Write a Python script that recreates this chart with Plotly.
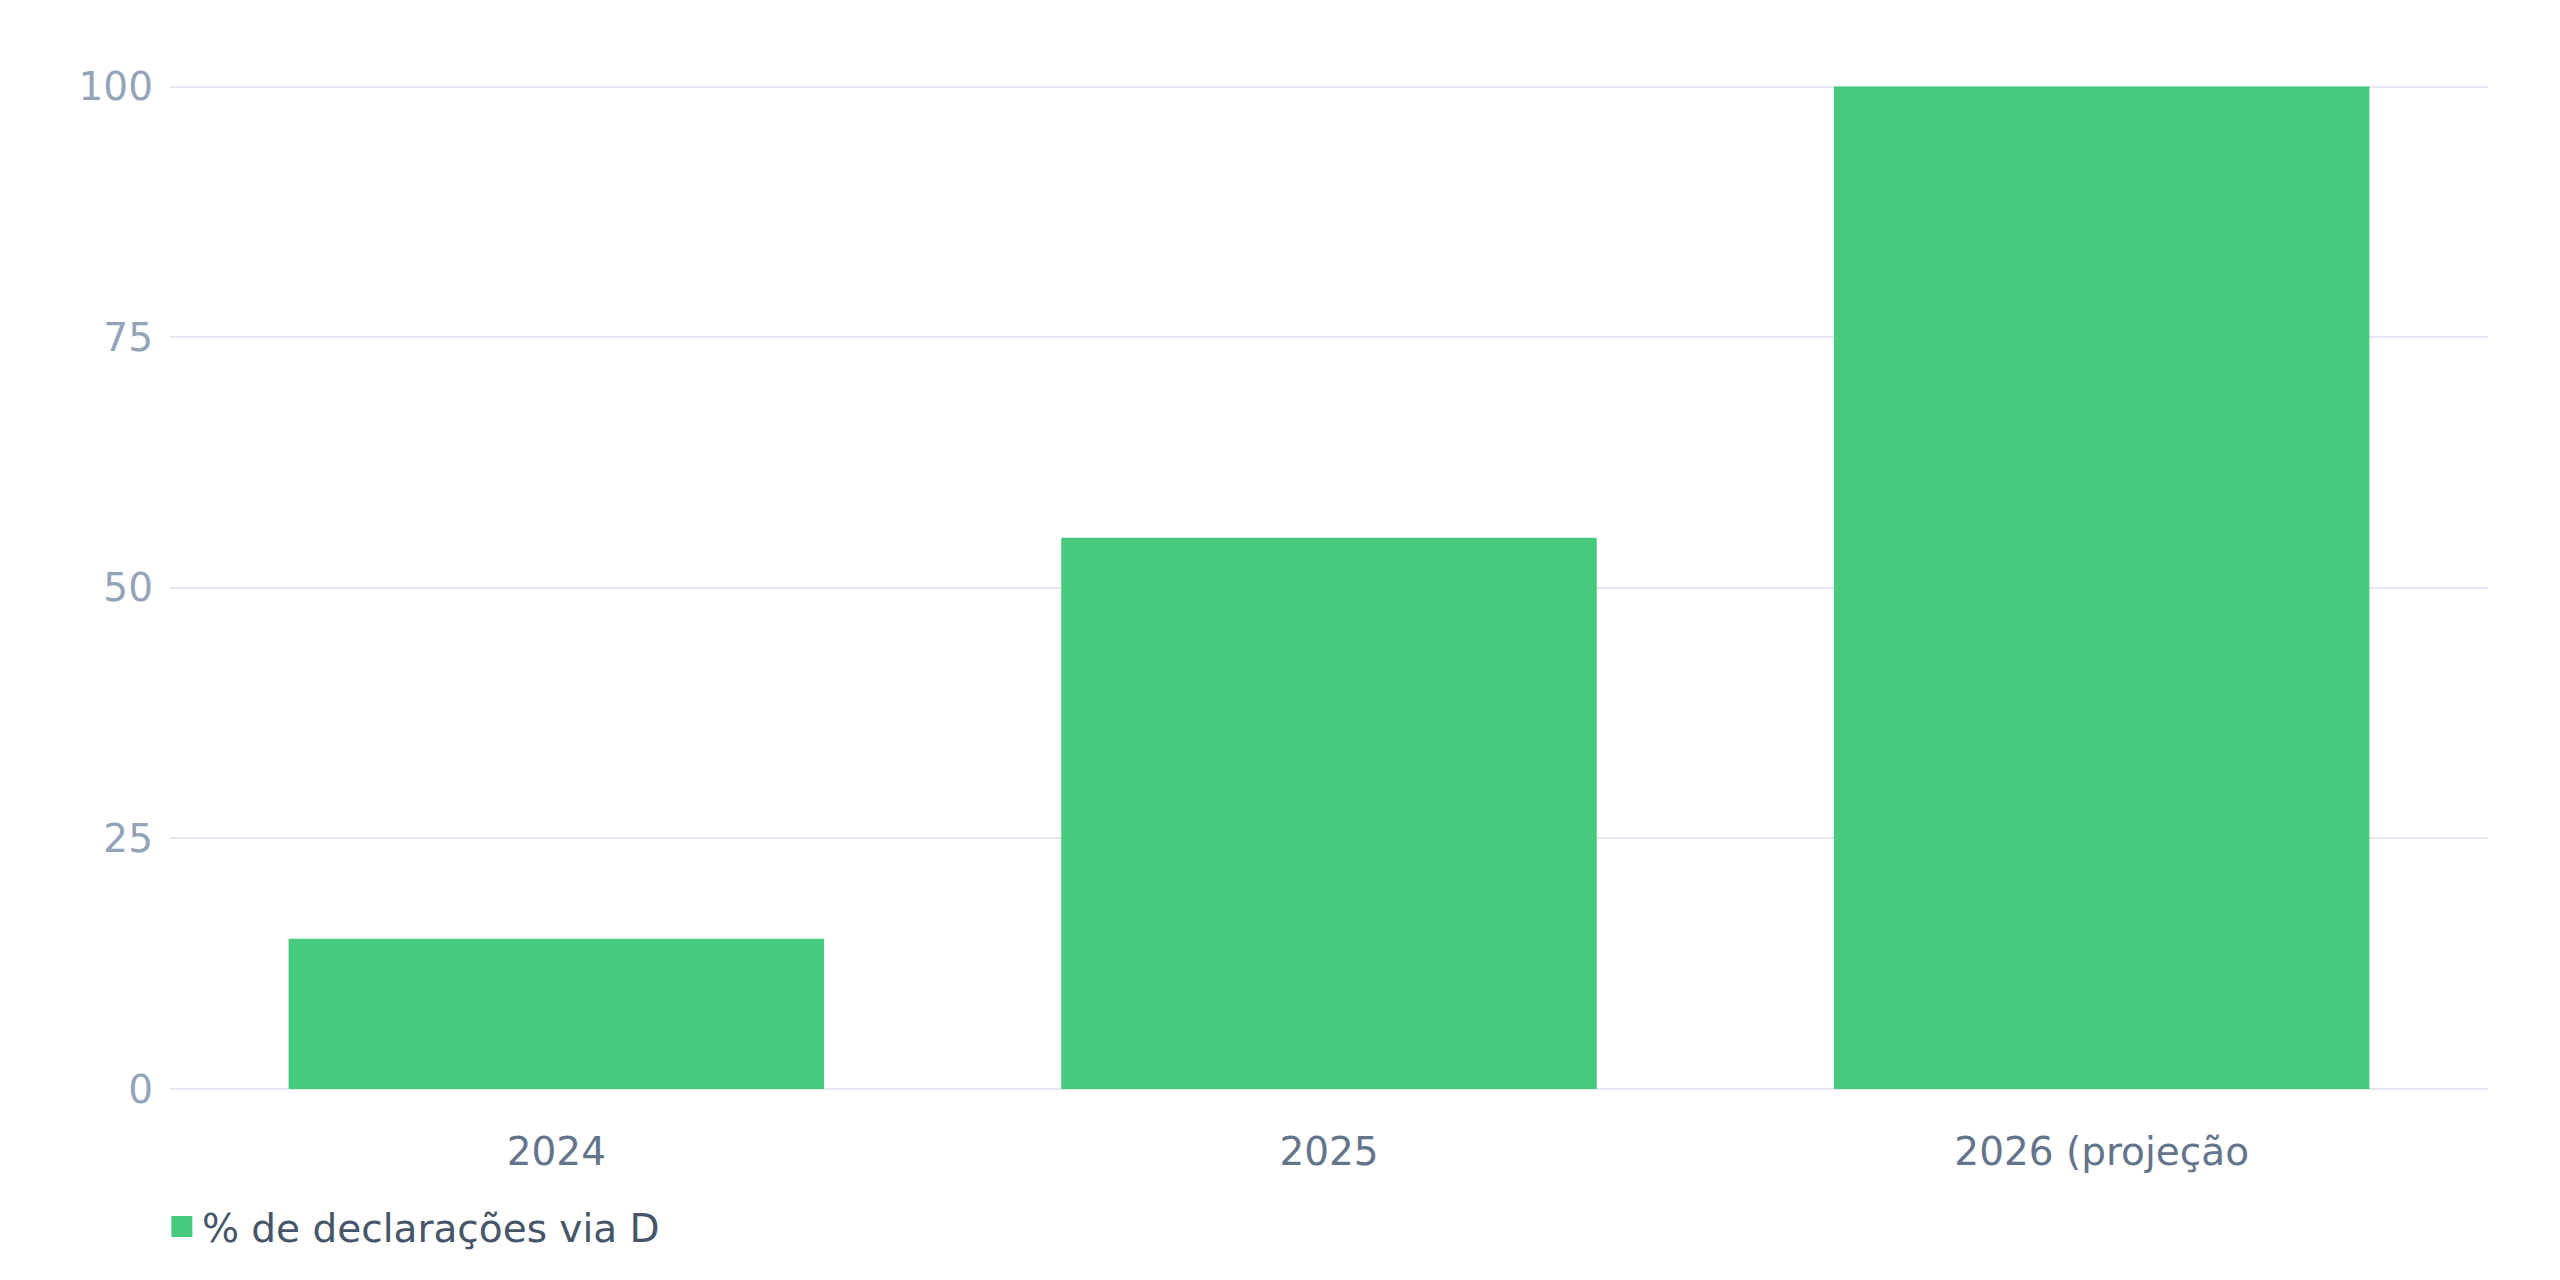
import plotly.graph_objects as go

categories = ["2024", "2025", "2026 (projeção"]
values = [15, 55, 100]
series_name = "% de declarações via D"
y_ticks = [0, 25, 50, 75, 100]

GREEN = "#47c97e"
FONT = "DejaVu Sans"
FS = 39

fig = go.Figure()
fig.add_trace(go.Bar(
    x=categories, y=values, name=series_name,
    marker=dict(color=GREEN, line=dict(width=0)),
    showlegend=False,
))
# legend entry (square swatch, enlarged by a same-colour outline)
fig.add_trace(go.Scatter(
    x=[None], y=[None], mode="markers", name=series_name,
    marker=dict(symbol="square", size=16, color=GREEN,
                line=dict(width=5, color=GREEN)),
))

fig.update_layout(
    paper_bgcolor="white",
    plot_bgcolor="white",
    font=dict(family=FONT, size=FS, color="#475569"),
    margin=dict(l=162, r=64, t=77, b=183),
    bargap=0.307,
    showlegend=True,
    legend=dict(
        orientation="h", x=-0.0035, xanchor="left", y=-0.137, yanchor="middle",
        font=dict(family=FONT, size=FS, color="#475569"),
        bgcolor="rgba(0,0,0,0)",
    ),
    xaxis=dict(
        showgrid=False, showline=False, zeroline=False,
        tickfont=dict(family=FONT, size=FS, color="#64748b"),
        ticks="", ticklabelstandoff=36,
    ),
    yaxis=dict(
        range=[0, 100.15], tickvals=y_ticks,
        showgrid=True, gridcolor="#e2e8f0", gridwidth=2,
        zeroline=True, zerolinecolor="#e2e8f0", zerolinewidth=2,
        showline=False, ticks="", ticklabelstandoff=16,
        tickfont=dict(family=FONT, size=FS, color="#94a3b8"),
    ),
)

fig.write_html("out.html")
